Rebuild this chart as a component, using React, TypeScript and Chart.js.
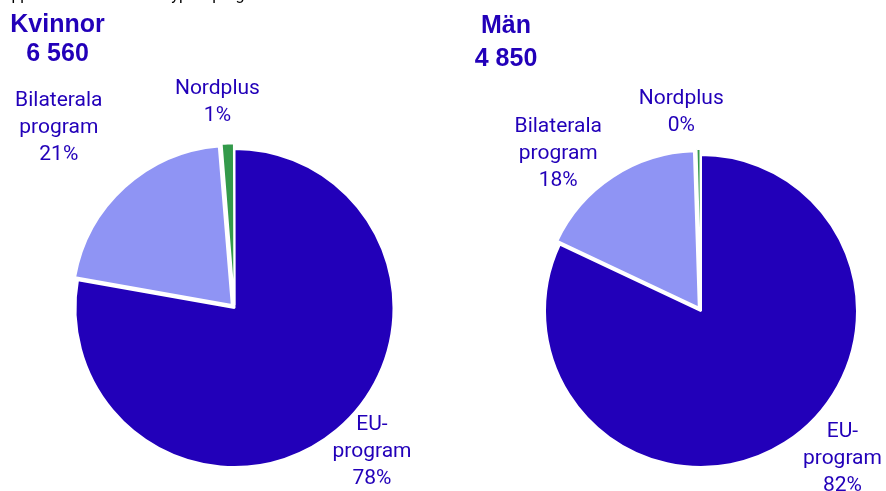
import React, { useEffect, useRef } from 'react';
import { Chart, registerables } from 'chart.js';

Chart.register(...registerables);

// ---- Data ----
const CATEGORIES = ['EU-program', 'Bilaterala program', 'Nordplus'];
const LABEL_LINES = [['EU-', 'program'], ['Bilaterala', 'program'], ['Nordplus']];
const WOMEN_SHARES = [77.8, 20.9, 1.3];
const MEN_SHARES = [82.0, 17.51, 0.49];
const WOMEN_TITLE = ['Kvinnor', '6 560'];
const MEN_TITLE = ['Män', '4 850'];
const SUBTITLE = 'Uppdelat efter kön och typ av program';

// ---- Style ----
const COLORS = ['#2200B9', '#8F94F4', '#339A4A'];
const TEXT_COLOR = '#2200B9';
const FONT = 'Roboto, "Noto Sans", sans-serif';
const TITLE_FONT = '"Liberation Sans", Arial, sans-serif';

type Placement = { shift: number; dist: number };

const outsideLabels = {
  id: 'outsideLabels',
  afterDatasetsDraw(chart: any, _args: any, opts: any) {
    const ctx = chart.ctx as CanvasRenderingContext2D;
    const meta = chart.getDatasetMeta(0);
    const data = chart.data.datasets[0].data as number[];
    const total = data.reduce((a: number, b: number) => a + b, 0);
    ctx.save();
    ctx.font = `21px ${FONT}`;
    ctx.fillStyle = TEXT_COLOR;
    ctx.textAlign = 'center';
    ctx.textBaseline = 'middle';
    meta.data.forEach((el: any, i: number) => {
      const { x, y, startAngle, endAngle, outerRadius } = el.getProps(
        ['x', 'y', 'startAngle', 'endAngle', 'outerRadius'],
        true
      );
      const place: Placement = opts.placement[i];
      const a = (startAngle + endAngle) / 2 + (place.shift * Math.PI) / 180;
      const d = outerRadius * place.dist;
      const cx = x + Math.cos(a) * d;
      const cy = y + Math.sin(a) * d;
      const lines = [...LABEL_LINES[i], Math.round((data[i] / total) * 100) + '%'];
      const lh = 27;
      lines.forEach((t, k) => ctx.fillText(t, cx, cy + (k - (lines.length - 1) / 2) * lh));
    });
    ctx.restore();
  },
};

const subtitlePlugin = {
  id: 'subtitleCut',
  afterDraw(chart: any, _args: any, opts: any) {
    if (!opts || !opts.text) return;
    const ctx = chart.ctx as CanvasRenderingContext2D;
    ctx.save();
    ctx.font = `16px ${FONT}`;
    ctx.fillStyle = '#000';
    ctx.textAlign = 'left';
    ctx.textBaseline = 'alphabetic';
    ctx.fillText(opts.text, 1, 0);
    ctx.restore();
  },
};

function PieChart(props: {
  shares: number[];
  padding: { left: number; right: number; top: number; bottom: number };
  placement: Placement[];
  left: number;
  subtitle?: string;
}) {
  const ref = useRef<HTMLCanvasElement>(null);
  useEffect(() => {
    const chart = new Chart(ref.current as HTMLCanvasElement, {
      type: 'pie',
      data: {
        labels: CATEGORIES,
        datasets: [
          {
            data: props.shares,
            backgroundColor: COLORS,
            borderColor: '#ffffff',
            borderWidth: 2,
            offset: [0, 16, 12],
            hoverOffset: 0,
          } as any,
        ],
      },
      options: {
        responsive: false,
        animation: false,
        rotation: 0,
        layout: { padding: props.padding },
        plugins: {
          legend: { display: false },
          tooltip: { enabled: false },
          outsideLabels: { placement: props.placement },
          subtitleCut: { text: props.subtitle || '' },
        } as any,
      },
      plugins: [outsideLabels, subtitlePlugin],
    });
    return () => chart.destroy();
  }, []);
  return (
    <canvas
      ref={ref}
      width={443}
      height={491}
      style={{ position: 'absolute', left: props.left, top: 0, width: 443, height: 491 }}
    />
  );
}

function Title(props: { lines: string[]; left: number; width: number; top: number; lineHeight: number }) {
  return (
    <div
      style={{
        position: 'absolute',
        left: props.left,
        top: props.top,
        width: props.width,
        textAlign: 'center',
        fontFamily: TITLE_FONT,
        fontWeight: 700,
        fontSize: 25,
        lineHeight: props.lineHeight + 'px',
        color: TEXT_COLOR,
        whiteSpace: 'nowrap',
      }}
    >
      {props.lines.map((l, i) => (
        <div key={i}>{l}</div>
      ))}
    </div>
  );
}

export default function App() {
  return (
    <div
      style={{
        position: 'absolute',
        left: 0,
        top: 0,
        width: 886,
        height: 491,
        overflow: 'hidden',
        background: '#fff',
      }}
    >
      <PieChart
        shares={WOMEN_SHARES}
        left={0}
        padding={{ left: 66.5, right: 40.5, top: 140, bottom: 15 }}
        placement={[
          { shift: -3.8, dist: 1.25 },
          { shift: -1.9, dist: 1.585 },
          { shift: -2.4, dist: 1.3 },
        ]}
        subtitle={SUBTITLE}
      />
      <PieChart
        shares={MEN_SHARES}
        left={443}
        padding={{ left: 93, right: 20, top: 146, bottom: 15 }}
        placement={[
          { shift: -11.4, dist: 1.31 },
          { shift: -9, dist: 1.36 },
          { shift: -4.8, dist: 1.28 },
        ]}
      />
      <Title lines={WOMEN_TITLE} left={0} width={115} top={9} lineHeight={29} />
      <Title lines={MEN_TITLE} left={456} width={100} top={8} lineHeight={33} />
    </div>
  );
}
